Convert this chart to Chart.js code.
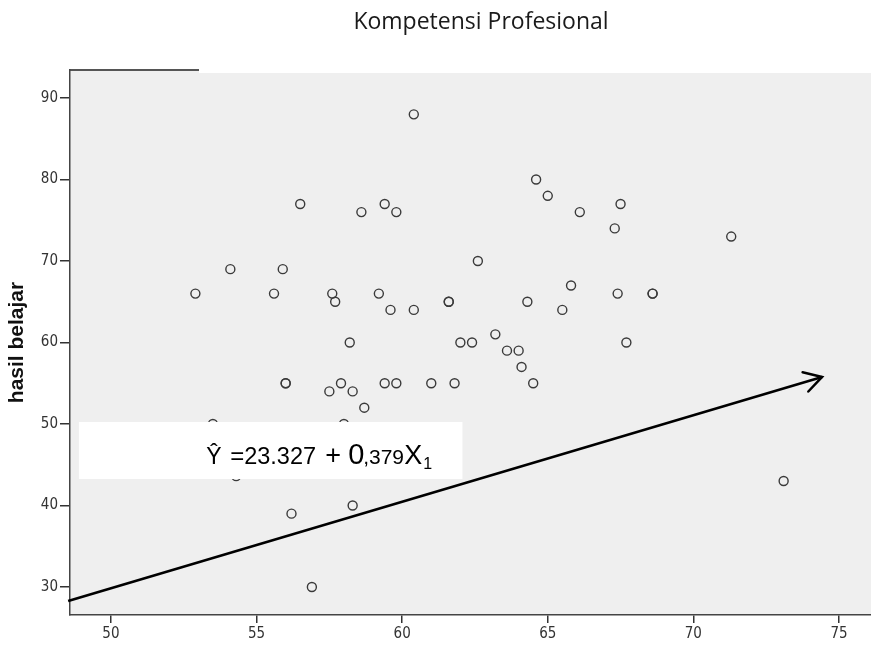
<!DOCTYPE html>
<html>
<head>
<meta charset="utf-8">
<script src="https://cdn.jsdelivr.net/npm/chart.js@4.4.1/dist/chart.umd.min.js"></script>
<style>
  html, body { margin: 0; padding: 0; background: #fff; }
  #wrap { width: 871px; height: 645px; }
</style>
</head>
<body>
<div id="wrap"><canvas id="chartKompetensi"></canvas></div>
<script>
// skor kompetensi profesional (X) dan hasil belajar (Y) tiap responden
var kompetensi = [60.4, 56.5, 58.6, 59.4, 59.8, 62.6, 54.1, 55.9, 52.9, 55.6,
                  57.6, 57.7, 59.2, 59.6, 60.4, 61.6, 61.6, 63.2, 58.2, 62.0,
                  62.4, 64.6, 65.0, 66.1, 67.5, 67.3, 71.3, 64.3, 65.8, 65.5,
                  67.4, 68.6, 68.6, 63.6, 64.0, 67.7, 64.1, 61.8, 64.5, 56.0,
                  56.0, 57.5, 57.9, 58.3, 59.4, 59.8, 61.0, 58.7, 53.5, 58.0,
                  54.3, 56.2, 58.3, 56.9, 73.1]
var hasilBelajar = [88, 77, 76, 77, 76, 70, 69, 69, 66, 66,
                    66, 65, 66, 64, 64, 65, 65, 61, 60, 60,
                    60, 80, 78, 76, 77, 74, 73, 65, 67, 64,
                    66, 66, 66, 59, 59, 60, 57, 55, 55, 55,
                    55, 54, 55, 54, 55, 55, 55, 52, 50, 50,
                    43.6, 39, 40, 30, 43]

var tickX = [50, 55, 60, 65, 70, 75]
var tickY = [30, 40, 50, 60, 70, 80, 90]

// panah arah garis regresi
var panahX = [48.53, 74.42]
var panahY = [28.28, 55.77]

var judul = 'Kompetensi Profesional'
var judulY = 'hasil belajar'

var titikData = kompetensi.map(function (v, i) { return { x: v, y: hasilBelajar[i] } })
var panahData = panahX.map(function (v, i) { return { x: v, y: panahY[i] } })

var fontTick = "'DejaVu Sans Condensed', 'Liberation Sans Narrow', 'Liberation Sans', Arial, sans-serif"

// latar abu-abu area plot + judul di atas
const latarPlot = {
   id: 'latarPlot',
   beforeDraw(chart) {
      const { ctx, chartArea: a } = chart
      ctx.save()
      ctx.fillStyle = '#efefef'
      ctx.fillRect(a.left, a.top, a.right - a.left, a.bottom - a.top)
      // tepi atas hanya tersisa di bagian kiri
      ctx.fillStyle = '#ffffff'
      ctx.fillRect(a.left + 129, a.top - 1, a.right - a.left - 129, 4)
      ctx.strokeStyle = '#555'
      ctx.lineWidth = 2
      ctx.beginPath()
      ctx.moveTo(a.left, a.top)
      ctx.lineTo(a.left + 129, a.top)
      ctx.stroke()

      ctx.fillStyle = '#1a1a1a'
      ctx.font = "23px 'Open Sans', sans-serif"
      ctx.textAlign = 'center'
      ctx.textBaseline = 'middle'
      ctx.fillText(judul, 481, 22)
      ctx.restore()
   }
}

// kotak persamaan regresi dan kepala panah
const persamaanPlugin = {
   id: 'persamaanPlugin',
   afterDatasetsDraw(chart) {
      const { ctx, scales: { x, y } } = chart
      ctx.save()

      // kepala panah di ujung garis
      const pts = chart.getDatasetMeta(1).data
      const p0 = pts[0], p1 = pts[pts.length - 1]
      const sudut = Math.atan2(p1.y - p0.y, p1.x - p0.x)
      const panjang = 20
      ctx.strokeStyle = '#000'
      ctx.lineWidth = 2.5
      ctx.lineCap = 'round'
      ctx.beginPath()
      ctx.moveTo(p1.x - panjang * Math.cos(sudut - Math.PI / 6), p1.y - panjang * Math.sin(sudut - Math.PI / 6))
      ctx.lineTo(p1.x, p1.y)
      ctx.lineTo(p1.x - panjang * Math.cos(sudut + Math.PI / 6), p1.y - panjang * Math.sin(sudut + Math.PI / 6))
      ctx.stroke()

      // kotak putih
      const kx0 = x.getPixelForValue(48.9), kx1 = x.getPixelForValue(62.07)
      const ky0 = y.getPixelForValue(50.25), ky1 = y.getPixelForValue(43.25)
      ctx.fillStyle = '#ffffff'
      ctx.fillRect(kx0, ky0, kx1 - kx0, ky1 - ky0)

      // potongan teks persamaan: geser = jarak dari awal teks
      const bagian = [
         { teks: 'Ŷ', ukuran: 23, geser: 0, turun: 0 },
         { teks: '=', ukuran: 24, geser: 24, turun: 0 },
         { teks: '23.327', ukuran: 23.5, geser: 38, turun: 0 },
         { teks: '+', ukuran: 27, geser: 119, turun: 0 },
         { teks: '0', ukuran: 29, geser: 142, turun: 0 },
         { teks: ',379', ukuran: 21, geser: 157, turun: 0 },
         { teks: 'X', ukuran: 27, geser: 198, turun: 0 },
         { teks: '1', ukuran: 16, geser: 217, turun: 5 }
      ]
      const awalX = x.getPixelForValue(53.27)
      const garisDasar = y.getPixelForValue(45.1)
      ctx.fillStyle = '#000'
      ctx.textAlign = 'left'
      ctx.textBaseline = 'alphabetic'
      for (const b of bagian) {
         ctx.font = b.ukuran + "px 'Liberation Sans', Arial, sans-serif"
         ctx.fillText(b.teks, awalX + b.geser, garisDasar + b.turun)
      }
      ctx.restore()
   }
}

new Chart(document.getElementById('chartKompetensi'), {
   type: 'scatter',
   data: {
      datasets: [{
         data: titikData,
         pointStyle: 'circle',
         pointRadius: 4.5,
         pointBorderWidth: 1.4,
         pointBorderColor: '#3a3a3a',
         pointBackgroundColor: 'rgba(0,0,0,0)'
      }, {
         type: 'line',
         data: panahData,
         showLine: true,
         borderColor: '#000',
         borderWidth: 2.5,
         pointRadius: 0,
         clip: false
      }]
   },
   options: {
      responsive: true,
      maintainAspectRatio: false,
      animation: false,
      layout: { autoPadding: false, padding: { top: 70, left: 0, right: 0, bottom: 0 } },
      plugins: {
         legend: { display: false },
         tooltip: { enabled: false }
      },
      scales: {
         x: {
            type: 'linear',
            min: 48.594,
            max: 76.1,
            afterBuildTicks: function (s) { s.ticks = tickX.map(function (v) { return { value: v } }) },
            afterFit: function (s) { s.height = 30; s.paddingLeft = 0; s.paddingRight = 0 },
            grid: { drawOnChartArea: false, drawTicks: true, tickLength: 8, color: '#333', lineWidth: 1.5 },
            border: { display: true, color: '#444', width: 1.5 },
            ticks: { padding: 2, color: '#333', font: { family: fontTick, size: 15 }, maxRotation: 0 }
         },
         y: {
            type: 'linear',
            min: 26.56,
            max: 93.44,
            afterBuildTicks: function (s) { s.ticks = tickY.map(function (v) { return { value: v } }) },
            afterFit: function (s) { s.width = 70; s.paddingTop = 0; s.paddingBottom = 0 },
            grid: { drawOnChartArea: false, drawTicks: true, tickLength: 10, color: '#333', lineWidth: 1.5 },
            border: { display: true, color: '#444', width: 1.5 },
            ticks: { padding: 2, color: '#333', font: { family: fontTick, size: 15 } },
            title: {
               display: true,
               text: judulY,
               color: '#111',
               font: { family: "'Liberation Sans', Arial, sans-serif", size: 21, weight: 'bold' },
               padding: { top: 5, bottom: 0 }
            }
         }
      }
   },
   plugins: [latarPlot, persamaanPlugin]
})
</script>
</body>
</html>
